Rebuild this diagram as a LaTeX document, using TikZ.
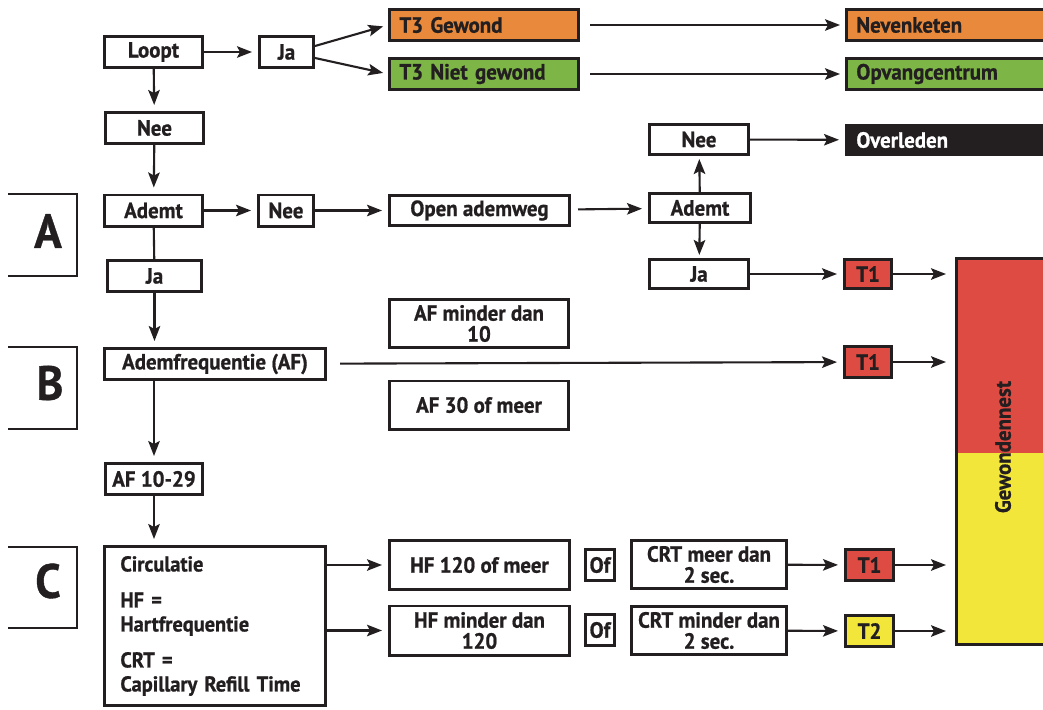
\documentclass[tikz,border=0pt]{standalone}
\usepackage{fontspec}
\newfontfamily\boxfont[FakeStretch=0.95,FakeBold=0.8]{PT Sans}
\usetikzlibrary{arrows.meta}
\definecolor{ink}{HTML}{231F20}
\definecolor{oranje}{HTML}{E8893B}
\definecolor{groen}{HTML}{7DB547}
\definecolor{rood}{HTML}{DD4B42}
\definecolor{geel}{HTML}{F2E63A}

\begin{document}
\begin{tikzpicture}[x=1pt,y=-1pt,
		box/.style={draw=ink,line width=2.8pt,fill=white,text=ink,inner sep=0pt,align=center,
			minimum height=31.2pt,font=\boxfont\bfseries\fontsize{22}{21}\selectfont},
		tagbox/.style={box,align=left,inner xsep=10pt,text width=#1},
		lettr/.style={text=ink,font=\boxfont\bfseries\fontsize{48}{48}\selectfont},
		sectie/.style={draw=ink,line width=2.6pt},
		arr/.style={draw=ink,line width=2.1pt,-{Stealth[length=15pt,width=11.5pt,inset=3pt]},shorten >=6pt},
		link/.style={draw=ink,line width=2.1pt}]
		\useasboundingbox (0,0) rectangle (1043,709);
		\clip (0,0) rectangle (1043,709);
		\fill[white] (0,0) rectangle (1043,709);
		% sections A, B, C
		\draw[sectie] (8,194) -- (77,194) -- (77,276) -- (8,276);
		\draw[sectie] (8,347) -- (77,347) -- (77,429) -- (8,429);
		\draw[sectie] (8,547) -- (77,547) -- (77,628) -- (8,628);
		\node[lettr] (letA) at (48,231) {A};
		\node[lettr] (letB) at (50,383) {B};
		\node[lettr] (letC) at (48,581) {C};
		% walking
		\node[box,minimum width=98.2pt] (loopt) at (153.5,52) {Loopt};
		\node[box,minimum width=54.2pt] (jaA) at (286.5,52) {Ja};
		\node[tagbox=169.2pt,fill=oranje] (gewond) at (484,25) {T3 Gewond};
		\node[tagbox=182.2pt,fill=oranje] (neven) at (947.5,25) {Nevenketen};
		\node[tagbox=169.2pt,fill=groen] (nietgewond) at (484,74) {T3 Niet gewond};
		\node[tagbox=182.2pt,fill=groen] (opvang) at (947.5,74) {Opvangcentrum};
		\node[box,minimum width=98.2pt] (nee1) at (154.5,128) {Nee};
		% A: breathing
		\node[box,minimum width=98.2pt] (ademt1) at (153.5,210.5) {Ademt};
		\node[box,minimum width=55.2pt] (nee2) at (286,210.5) {Nee};
		\node[box,minimum width=94.2pt] (ja1) at (154.5,276) {Ja};
		\node[box,minimum width=180.2pt,minimum height=30.2pt] (open) at (479.5,210.5) {Open ademweg};
		\node[box,minimum width=101.2pt,minimum height=29.2pt] (ademt2) at (700,208) {Ademt};
		\node[box,minimum width=99.2pt,minimum height=30.2pt] (nee3) at (699,139.5) {Nee};
		\node[box,minimum width=99.2pt,minimum height=29.2pt] (ja2) at (699,274) {Ja};
		\node[tagbox=182.2pt,fill=ink,text=white,minimum height=29.2pt] (dood) at (947.5,140) {Overleden};
		\node[box,fill=rood,minimum width=47.2pt,minimum height=29.2pt] (t1a) at (868,274) {T1};
		% B: breathing rate
		\node[box,minimum width=221.2pt] (af) at (215,364) {Ademfrequentie (AF)};
		\node[box,minimum width=179.2pt,minimum height=48.2pt] (afmin) at (479,323.5) {AF minder dan\\10};
		\node[box,minimum width=179.2pt,minimum height=48.2pt] (af30) at (479,405) {AF 30 of meer};
		\node[box,fill=rood,minimum width=47.2pt] (t1b) at (868,362) {T1};
		\node[box,minimum width=97.2pt] (af1029) at (154,479) {AF 10-29};
		% C: circulation
		\node[box,align=left,inner xsep=16pt,text width=189.2pt,minimum height=159.2pt,
			font=\boxfont\bfseries\fontsize{21.5}{24}\selectfont] (circ) at (215,626)
			{Circulatie\\[12pt]HF =\\Hartfrequentie\\[12pt]CRT =\\Capillary Refill Time};
		\node[box,minimum width=180.2pt,minimum height=49.2pt] (hf120) at (479.5,565) {HF 120 of meer};
		\node[box,minimum width=180.2pt,minimum height=49.2pt] (hfmin) at (479.5,630.5) {HF minder dan\\120};
		\node[box,minimum width=29.2pt] (of1) at (600,565) {Of};
		\node[box,minimum width=29.2pt] (of2) at (600,630) {Of};
		\node[box,minimum width=155.2pt,minimum height=48.2pt] (crtmeer) at (709,564.5) {CRT meer dan\\2 sec.};
		\node[box,minimum width=155.2pt,minimum height=48.2pt] (crtmin) at (709,630.5) {CRT minder dan\\2 sec.};
		\node[box,fill=rood,minimum width=48.2pt] (t1c) at (869.5,565) {T1};
		\node[box,fill=geel,minimum width=48.2pt] (t2) at (869.5,631) {T2};
		% casualty nest
		\fill[rood] (956,258) rectangle (1050,453);
		\fill[geel] (956,453) rectangle (1050,645);
		\node[draw=ink,line width=2.8pt,inner sep=0pt,minimum width=95pt,minimum height=386.2pt] (nest) at (1003.9,451.5) {};
		\node[rotate=90,text=ink,font=\boxfont\bfseries\fontsize{22}{22}\selectfont] (nestlabel) at (1003,447) {Gewondennest};
		% connectors
		\draw[arr] (loopt) -- (jaA);
		\draw[arr,shorten >=5pt] ([yshift=6pt]jaA.east) -- (gewond.west);
		\draw[arr,shorten >=5pt] ([yshift=-6pt]jaA.east) -- (nietgewond.west);
		\draw[arr,shorten <=10pt,shorten >=5pt] (gewond) -- (neven);
		\draw[arr,shorten <=10pt,shorten >=5pt] (nietgewond) -- (opvang);
		\draw[arr] (loopt) -- (nee1);
		\draw[arr] (nee1) -- (ademt1);
		\draw[link] (ademt1) -- (ja1);
		\draw[arr] (ja1.south) -- (ja1.south |- af.north);
		\draw[arr] (ademt1) -- (nee2);
		\draw[arr] (nee2) -- (open);
		\draw[arr,shorten <=7pt] (open) -- (ademt2);
		\draw[arr,shorten >=3pt] (ademt2) -- (nee3);
		\draw[arr,shorten >=3pt] (ademt2) -- (ja2);
		\draw[arr] (nee3) -- (dood);
		\draw[arr] (ja2) -- (t1a);
		\draw[arr,shorten >=9pt] (t1a) -- (t1a -| nest.west);
		\draw[arr,shorten <=13pt] (af) -- (t1b);
		\draw[arr,shorten >=9pt] (t1b) -- (t1b -| nest.west);
		\draw[arr] (af.south -| af1029) -- (af1029);
		\draw[arr] (af1029) -- (af1029 |- circ.north);
		\draw[arr] (circ.east |- hf120) -- (hf120);
		\draw[arr] (circ.east |- hfmin) -- (hfmin);
		\draw[arr] (crtmeer) -- (t1c);
		\draw[arr] (crtmin) -- (t2);
		\draw[arr,shorten >=9pt] (t1c) -- (t1c -| nest.west);
		\draw[arr,shorten >=9pt] (t2) -- (t2 -| nest.west);
		%\draw[arr] (hf120) -- (of1);
		%\draw[arr] (of1) -- (crtmeer);
\end{tikzpicture}
\end{document}
